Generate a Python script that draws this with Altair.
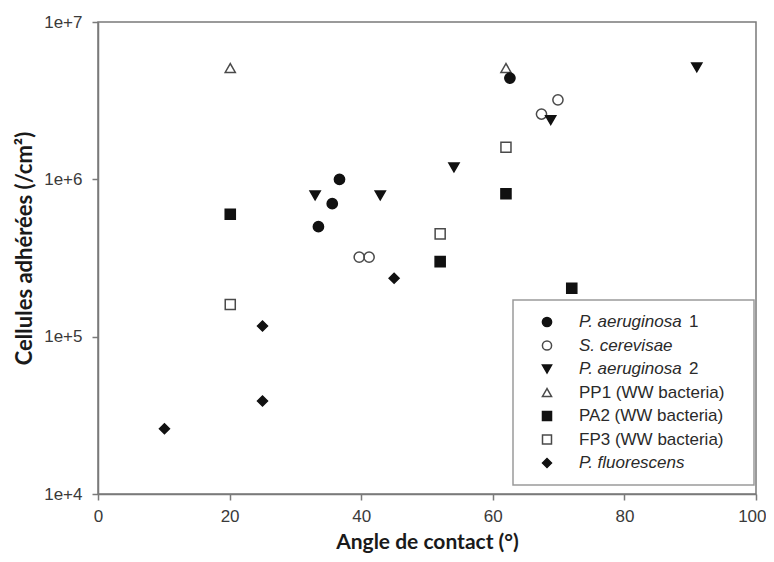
import altair as alt
import pandas as pd

species = ["P. aeruginosa 1", "S. cerevisae", "P. aeruginosa 2", "PP1 (WW bacteria)",
           "PA2 (WW bacteria)", "FP3 (WW bacteria)", "P. fluorescens"]
leg_italic = ["P. aeruginosa", "S. cerevisae", "P. aeruginosa", "", "", "", "P. fluorescens"]
leg_normal = ["1", "", "2", "PP1 (WW bacteria)", "PA2 (WW bacteria)", "FP3 (WW bacteria)", ""]

shapes = ["circle", "circle", "triangle-down", "triangle-up", "square", "square", "diamond"]
fills = ["#111111", "transparent", "#111111", "transparent", "#111111", "transparent", "#111111"]
strokes = ["#111111", "#4a4a4a", "#111111", "#4a4a4a", "#111111", "#4a4a4a", "#111111"]
sizes = [105, 100, 140, 135, 115, 100, 190]
legend_sizes = [85, 80, 110, 105, 90, 80, 150]

# data per series (x = contact angle in degrees, y = adhered cells per cm2)
pp1_x = [20.1, 62.0]
pp1_y = [5.1e6, 5.1e6]
pa1_x = [33.5, 35.6, 36.7, 62.6]
pa1_y = [5.0e5, 7.0e5, 1.0e6, 4.4e6]
sc_x = [39.7, 41.2, 67.4, 69.9]
sc_y = [3.2e5, 3.2e5, 2.6e6, 3.2e6]
pa2_x = [33.0, 42.9, 54.1, 68.8, 91.0]
pa2_y = [7.9e5, 7.9e5, 1.19e6, 2.38e6, 5.15e6]
pa2ww_x = [20.1, 52.0, 62.0, 72.0]
pa2ww_y = [6.0e5, 3.0e5, 8.1e5, 2.03e5]
fp3_x = [20.1, 52.0, 62.0]
fp3_y = [1.6e5, 4.5e5, 1.6e6]
pf_x = [10.1, 25.0, 25.0, 45.0]
pf_y = [2.6e4, 3.9e4, 1.17e5, 2.35e5]

series = [
    ("PP1 (WW bacteria)", pp1_x, pp1_y),
    ("P. aeruginosa 1", pa1_x, pa1_y),
    ("S. cerevisae", sc_x, sc_y),
    ("P. aeruginosa 2", pa2_x, pa2_y),
    ("PA2 (WW bacteria)", pa2ww_x, pa2ww_y),
    ("FP3 (WW bacteria)", fp3_x, fp3_y),
    ("P. fluorescens", pf_x, pf_y),
]
rows = []
for name, xs, ys in series:
    for xv, yv in zip(xs, ys):
        rows.append({"species": name, "angle": xv, "cells": yv})
df = pd.DataFrame(rows)

leg_df = pd.DataFrame({"species": species, "ital": leg_italic, "norm": leg_normal})

FONT = "Liberation Sans"
TITLE_FONT = "Lato"

shape_scale = alt.Scale(domain=species, range=shapes)
fill_scale = alt.Scale(domain=species, range=fills)
stroke_scale = alt.Scale(domain=species, range=strokes)

points = alt.Chart(df).mark_point(strokeWidth=1.5, opacity=1).encode(
    x=alt.X("angle:Q", scale=alt.Scale(domain=[0, 100], nice=False, zero=False),
            axis=alt.Axis(values=[0, 20, 40, 60, 80, 100], title="Angle de contact (°)",
                          labelFlush=False, labelPadding=8,
                          labelAlign={"condition": {"test": "datum.value == 100", "value": "right"},
                                      "value": "center"},
                          labelOffset={"condition": {"test": "datum.value == 100", "value": 10},
                                       "value": 0},
                          titleY=48, titleBaseline="middle", titleFontSize=21)),
    y=alt.Y("cells:Q", scale=alt.Scale(type="log", domain=[1e4, 1e7], nice=False),
            axis=alt.Axis(values=[1e4, 1e5, 1e6, 1e7], format=".0e",
                          title="Cellules adhérées (/cm²)", labelPadding=10,
                          titleX=-74, titleY=226, titleAngle=-90,
                          titleAlign="center", titleBaseline="middle",
                          titleFontSize=22)),
    shape=alt.Shape("species:N", scale=shape_scale, legend=None),
    fill=alt.Fill("species:N", scale=fill_scale, legend=None),
    stroke=alt.Stroke("species:N", scale=stroke_scale, legend=None),
    size=alt.Size("species:N", scale=alt.Scale(domain=species, range=sizes), legend=None),
)

leg_y = alt.Y("species:N", scale=alt.Scale(type="point", domain=species, range=[300, 441], padding=0),
              axis=None)

legend_box = alt.Chart(leg_df).mark_rect(fill="white", stroke="#9a9a9a", strokeWidth=1.5).encode(
    x=alt.value(415), x2=alt.value(656), y=alt.value(278), y2=alt.value(463)
).transform_filter("datum.species == 'P. fluorescens'")

legend_symbols = alt.Chart(leg_df).mark_point(strokeWidth=1.5, opacity=1).encode(
    x=alt.value(449),
    y=leg_y,
    shape=alt.Shape("species:N", scale=shape_scale, legend=None),
    fill=alt.Fill("species:N", scale=fill_scale, legend=None),
    stroke=alt.Stroke("species:N", scale=stroke_scale, legend=None),
    size=alt.Size("species:N", scale=alt.Scale(domain=species, range=legend_sizes), legend=None),
)

text_ital = alt.Chart(leg_df).mark_text(
    align="left", baseline="middle", font=FONT, fontSize=17, fontStyle="italic", color="#2a2a2a"
).encode(x=alt.value(481), y=leg_y, text="ital:N").transform_filter("datum.ital != ''")

text_suffix = alt.Chart(leg_df).mark_text(
    align="left", baseline="middle", font=FONT, fontSize=17, color="#2a2a2a"
).encode(x=alt.value(591), y=leg_y, text="norm:N").transform_filter(
    "datum.ital != '' && datum.norm != ''")

text_plain = alt.Chart(leg_df).mark_text(
    align="left", baseline="middle", font=FONT, fontSize=17, color="#2a2a2a"
).encode(x=alt.value(481), y=leg_y, text="norm:N").transform_filter("datum.ital == ''")

chart = alt.layer(points, legend_box, legend_symbols, text_ital, text_suffix, text_plain).resolve_scale(
    y="independent", size="independent"
).properties(
    width=658, height=472,
    autosize=alt.AutoSizeParams(type="none"),
    padding={"left": 90, "top": 14, "right": 10, "bottom": 60},
).configure_view(
    stroke="#7a7a7a", strokeWidth=1.5
).configure_axis(
    grid=False,
    domainColor="#7a7a7a", domainWidth=1.5,
    tickColor="#7a7a7a", tickWidth=1.5, tickSize=6,
    labelFont=FONT, labelFontSize=17, labelColor="#3a3a3a",
    titleFont=TITLE_FONT, titleFontSize=19, titleFontWeight="bold", titleColor="#1a1a1a",
)

chart.save("out.html", embed_options={"renderer": "svg", "actions": False})
